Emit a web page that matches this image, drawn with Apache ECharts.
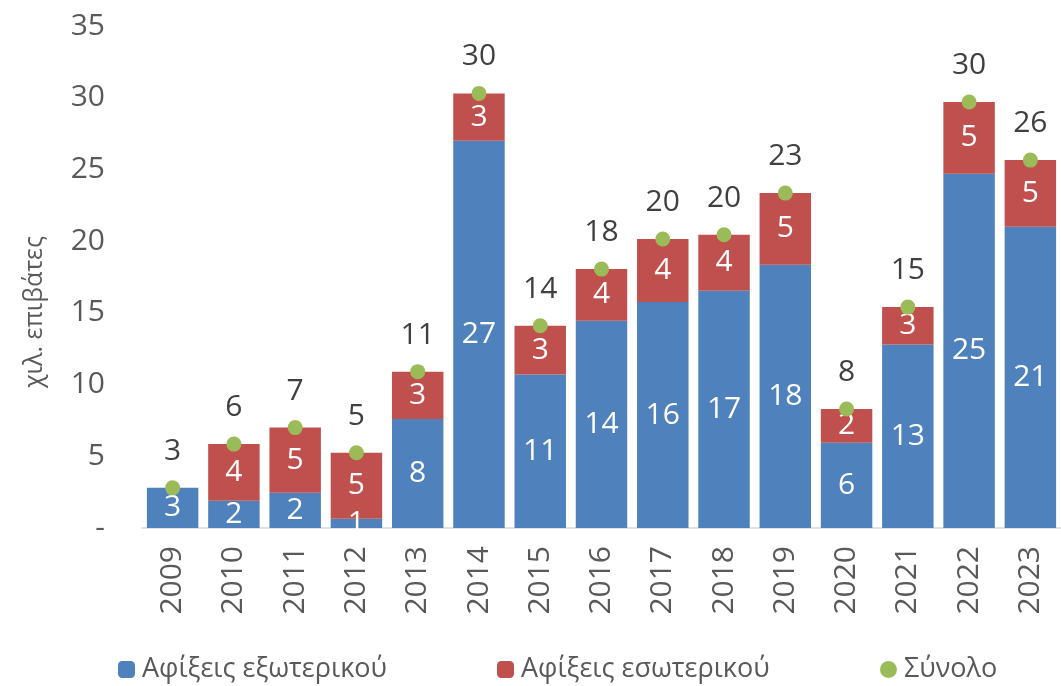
<!DOCTYPE html>
<html><head><meta charset="utf-8">
<script src="https://cdn.jsdelivr.net/npm/echarts@6/dist/echarts.min.js"></script>
<style>html,body{margin:0;padding:0;background:#fff}#c{width:1061px;height:686px}</style>
</head><body><div id="c"></div>
<script>
const years = ['2009','2010','2011','2012','2013','2014','2015','2016','2017','2018','2019','2020','2021','2022','2023'];
const foreignArrivals = [2.8, 1.9, 2.45, 0.65, 7.6, 27.0, 10.7, 14.45, 15.75, 16.55, 18.35, 5.95, 12.8, 24.7, 21.0];
const domesticArrivals = [0, 3.95, 4.55, 4.6, 3.3, 3.3, 3.4, 3.6, 4.4, 3.9, 5.0, 2.35, 2.6, 5.0, 4.65];
const totals = foreignArrivals.map((v, i) => +(v + domesticArrivals[i]).toFixed(2));
const yTicks = [0, 5, 10, 15, 20, 25, 30, 35];
const names = ['Αφίξεις εξωτερικού', 'Αφίξεις εσωτερικού', 'Σύνολο'];
const yAxisTitle = 'χιλ. επιβάτες';

const FONT = 'Open Sans';
const FS = 30;
const chart = echarts.init(document.getElementById('c'));
const fmt = p => (Math.round(p.value) === 0 ? '-' : String(Math.round(p.value)));
chart.setOption({
  animation: false,
  textStyle: { fontFamily: FONT },
  grid: { left: 142, right: -12, top: 26, bottom: 158, containLabel: false },
  graphic: [{
    type: 'text', x: 22, y: 312, rotation: Math.PI / 2,
    style: { text: yAxisTitle, fill: '#595959', font: '25px "Open Sans"', align: 'center', verticalAlign: 'top' }
  }],
  legend: [
    { data: [names[0]], left: 113, top: 651, itemWidth: 17, itemHeight: 17,
      textStyle: { fontFamily: FONT, fontSize: 27, color: '#595959', padding: [0, 0, 0, 2] } },
    { data: [names[1]], left: 492, top: 651, itemWidth: 17, itemHeight: 17,
      textStyle: { fontFamily: FONT, fontSize: 27, color: '#595959', padding: [0, 0, 0, 2] } },
    { data: [{ name: names[2], icon: 'circle' }], left: 875, top: 651, itemWidth: 17, itemHeight: 17,
      textStyle: { fontFamily: FONT, fontSize: 27, color: '#595959', padding: [0, 0, 0, 2] } }
  ],
  xAxis: {
    type: 'category', data: years,
    axisTick: { show: false },
    axisLine: { lineStyle: { color: '#d9d9d9', width: 1.5 } },
    axisLabel: { rotate: 90, margin: 18, color: '#595959', fontSize: FS, fontFamily: FONT }
  },
  yAxis: {
    type: 'value', min: 0, max: 35, interval: 5,
    splitLine: { show: false }, axisLine: { show: false }, axisTick: { show: false },
    axisLabel: { margin: 37, color: '#595959', fontSize: FS, fontFamily: FONT,
      formatter: v => (yTicks.includes(v) ? (v === 0 ? '-' : String(v)) : '') }
  },
  series: [
    { name: names[0], type: 'bar', stack: 's', data: foreignArrivals, barCategoryGap: '16%',
      itemStyle: { color: '#4F81BD' },
      label: { show: true, position: 'inside', color: '#fff', fontSize: FS, fontFamily: FONT, formatter: fmt } },
    { name: names[1], type: 'bar', stack: 's', data: domesticArrivals, barCategoryGap: '16%',
      itemStyle: { color: '#C0504D' },
      label: { show: true, position: 'inside', color: '#fff', fontSize: FS, fontFamily: FONT, formatter: fmt } },
    { name: names[2], type: 'line', data: totals, symbol: 'circle', symbolSize: 15,
      lineStyle: { width: 0, opacity: 0 }, itemStyle: { color: '#9BBB59' }, z: 5,
      label: { show: true, position: 'top', distance: 14, color: '#404040', fontSize: FS, fontFamily: FONT, formatter: fmt } }
  ]
});
</script></body></html>
